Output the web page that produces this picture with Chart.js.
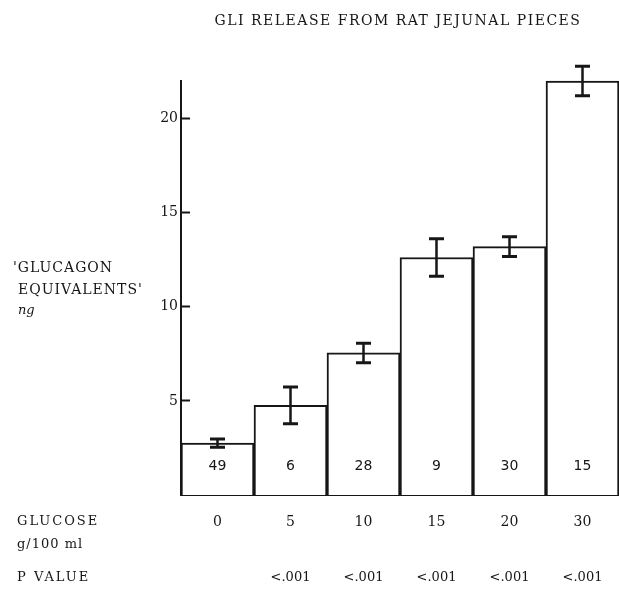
<!DOCTYPE html>
<html><head><meta charset="utf-8">
<script src="https://cdn.jsdelivr.net/npm/chart.js@4"></script>
<style>html,body{margin:0;padding:0;background:#fff}#wrap{width:619px;height:596px}</style>
</head><body><div id="wrap"><canvas id="c" width="619" height="596"></canvas></div>
<script>
const glucose = ['0', '5', '10', '15', '20', '30'];
const gliMean = [2.76, 4.76, 7.55, 12.62, 13.2, 22.0];
const gliSem = [0.22, 0.98, 0.52, 1.0, 0.52, 0.78];
const nPieces = ['49', '6', '28', '9', '30', '15'];
const pValues = ['', '<.001', '<.001', '<.001', '<.001', '<.001'];
const yTicks = [5, 10, 15, 20];
const titleText = 'GLI RELEASE FROM RAT JEJUNAL PIECES';
const yLabelLines = ["'GLUCAGON", "EQUIVALENTS'", 'ng'];
const xLabelLines = ['GLUCOSE', 'g/100 ml'];
const pLabel = 'P VALUE';

const INK = '#161616';
const SERIF = '"DejaVu Serif", "Liberation Serif", serif';
const SANS = '"DejaVu Sans", Verdana, sans-serif';

const extras = {
  id: 'extras',
  afterDatasetsDraw(chart) {
    const ctx = chart.ctx;
    const meta = chart.getDatasetMeta(0);
    const y = chart.scales.y;
    const area = chart.chartArea;
    ctx.save();
    ctx.strokeStyle = INK;
    // error bars
    meta.data.forEach((bar, i) => {
      const x = bar.x;
      const yt = y.getPixelForValue(gliMean[i] + gliSem[i]);
      const yb = y.getPixelForValue(gliMean[i] - gliSem[i]);
      ctx.lineWidth = 2.5;
      ctx.beginPath();
      ctx.moveTo(x, yt); ctx.lineTo(x, yb);
      ctx.stroke();
      ctx.lineWidth = 3;
      ctx.beginPath();
      ctx.moveTo(x - 7.5, yt); ctx.lineTo(x + 7.5, yt);
      ctx.moveTo(x - 7.5, yb); ctx.lineTo(x + 7.5, yb);
      ctx.stroke();
    });
    // counts inside bars
    ctx.fillStyle = INK;
    ctx.font = '14px ' + SANS;
    ctx.textAlign = 'center';
    ctx.textBaseline = 'middle';
    meta.data.forEach((bar, i) => {
      ctx.fillText(nPieces[i], bar.x, area.bottom - 29);
    });
    // p values row
    ctx.font = '13px ' + SERIF;
    meta.data.forEach((bar, i) => {
      if (pValues[i]) ctx.fillText(pValues[i], bar.x, 578);
    });
    // title
    ctx.font = '14px ' + SERIF;
    ctx.letterSpacing = '1.5px';
    ctx.fillText(titleText, 398, 21);
    // left labels
    ctx.textAlign = 'left';
    ctx.font = '14px ' + SERIF;
    ctx.letterSpacing = '1px';
    ctx.fillText(yLabelLines[0], 13, 268);
    ctx.fillText(yLabelLines[1], 18, 290);
    ctx.font = 'italic 13px ' + SERIF;
    ctx.letterSpacing = '0px';
    ctx.fillText(yLabelLines[2], 18, 311);
    ctx.font = '13px ' + SERIF;
    ctx.letterSpacing = '2px';
    ctx.fillText(xLabelLines[0], 17, 522);
    ctx.letterSpacing = '1px';
    ctx.fillText(xLabelLines[1], 17, 545);
    ctx.letterSpacing = '2px';
    ctx.fillText(pLabel, 17, 578);
    ctx.restore();
  }
};

new Chart(document.getElementById('c'), {
  type: 'bar',
  data: {
    labels: glucose,
    datasets: [{
      data: gliMean,
      backgroundColor: '#ffffff',
      borderColor: INK,
      borderWidth: 2,
      categoryPercentage: 1,
      barPercentage: 1,
      clip: false
    }]
  },
  options: {
    responsive: false,
    animation: false,
    devicePixelRatio: 1,
    layout: { padding: { top: 81, left: 0, right: 0, bottom: 0 } },
    plugins: { legend: { display: false }, tooltip: { enabled: false }, title: { display: false } },
    scales: {
      x: {
        grid: { display: false, drawTicks: false },
        border: { display: true, color: INK, width: 2 },
        ticks: { color: INK, font: { family: SERIF, size: 14 }, padding: 19 },
        afterFit(s) { s.height = 101; }
      },
      y: {
        min: 0, max: 22,
        afterBuildTicks(s) { s.ticks = yTicks.map(v => ({ value: v })); },
        grid: { drawOnChartArea: false, drawTicks: true, tickLength: -9, tickWidth: 2, tickColor: INK },
        border: { display: true, color: INK, width: 2 },
        ticks: { color: INK, font: { family: SERIF, size: 14 }, padding: 12 },
        afterFit(s) { s.width = 181; }
      }
    }
  },
  plugins: [extras]
});
</script>
</body></html>
